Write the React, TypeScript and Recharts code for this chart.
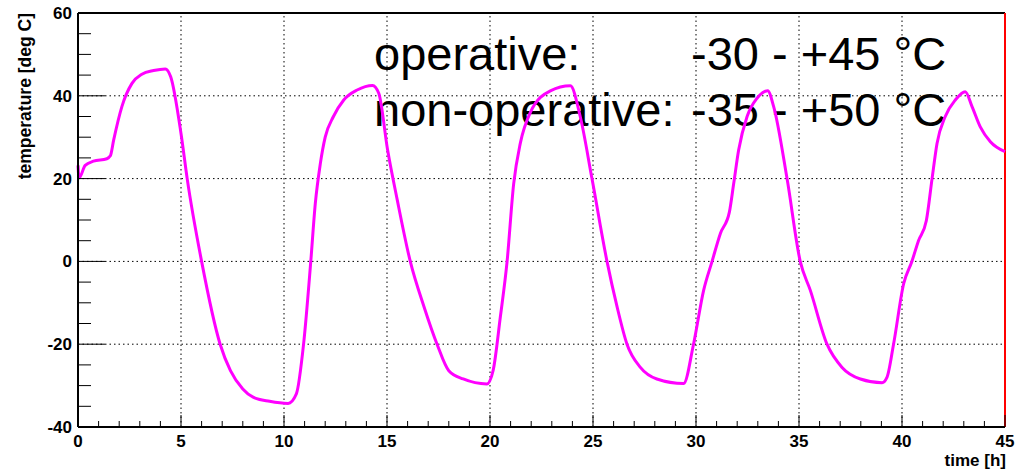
import React from 'react';
import { LineChart, Line, XAxis, YAxis, ReferenceLine, ReferenceArea } from 'recharts';

// time [h] and temperature [deg C]
const timeH = [
  0, 0.05, 0.35, 0.75, 1.4, 1.57, 1.73, 2.13, 2.62, 3.1, 3.67, 4.24, 4.5, 5.0, 5.3, 6.0, 6.9, 7.4, 8.0, 8.5,
  9.3, 10.2, 10.6, 10.95, 11.3, 11.52, 11.76, 12.0, 12.4, 12.9, 13.55, 14.3, 14.6, 15.03, 15.5, 16.13, 16.8,
  17.43, 18.0, 18.7, 19.85, 20.15, 20.5, 20.83, 21.15, 21.47, 21.96, 22.93, 23.9, 24.38, 24.95, 25.68, 26.17,
  26.65, 27.3, 28.1, 29.4, 29.88, 30.37, 30.78, 31.18, 31.62, 31.83, 32.07, 32.48, 32.96, 33.48, 33.77, 34.42,
  35.06, 35.55, 36.36, 37.09, 37.98, 39.03, 39.27, 39.59, 40.08, 40.48, 40.8, 41.18, 41.46, 41.7, 42.1, 42.59,
  43.07, 43.4, 43.8, 44.29, 45,
];
const tempC = [
  23.2, 20.2, 23.2, 24.2, 24.8, 25.5, 29.3, 37.4, 43, 45.2, 46.1, 46.5, 44.6, 30.9, 20, 0, -20, -26.4, -30.8, -32.8,
  -33.8, -34.3, -32, -20, 0, 14, 23.5, 30, 35, 39, 41.4, 42.5, 40.6, 26.9, 14.8, 0, -11,
  -20, -26.4, -28.4, -29.6, -26.4, -13.5, 0, 18.8, 28.5, 36, 41.2, 42.4, 35, 20, 0, -11,
  -20, -25.6, -28.4, -29.5, -20, -7, 0, 6.7, 11.9, 18.8, 26.9, 35, 39.4, 41.2, 37.4, 20,
  0, -7, -20, -25.6, -28.4, -29.3, -28, -20, -5.4, 0, 5, 9.8, 20, 28.5, 35, 39,
  41, 37.4, 32.5, 28.9, 26.5,
];

const xTicks = Array.from({ length: 46 }, (_, i) => i);
const yTicks = Array.from({ length: 21 }, (_, i) => -40 + i * 5);
const xGrid = [5, 10, 15, 20, 25, 30, 35, 40];
const yGrid = [-20, 0, 20, 40];

const data = timeH.map((t, i) => ({ t, temp: tempC[i] }));

const FONT = '"Liberation Sans", Arial, Helvetica, sans-serif';

const XTick = (props: any) => {
  const { x, y, payload } = props;
  const major = payload.value % 5 === 0;
  return (
    <g>
      <line x1={x} x2={x} y1={y} y2={y - (major ? 12 : 6)} stroke="#000" strokeWidth={1} />
      {major && (
        <text x={x} y={y + 20} textAnchor="middle" fontFamily={FONT} fontWeight="bold" fontSize={17} fill="#000">
          {payload.value}
        </text>
      )}
    </g>
  );
};

const YTick = (props: any) => {
  const { x, y, payload } = props;
  const major = payload.value % 20 === 0;
  return (
    <g>
      <line x1={x} x2={x + (major ? 27 : 13)} y1={y} y2={y} stroke="#000" strokeWidth={1} />
      {major && (
        <text x={x - 6} y={y + 6} textAnchor="end" fontFamily={FONT} fontWeight="bold" fontSize={17} fill="#000">
          {payload.value}
        </text>
      )}
    </g>
  );
};

export default function App() {
  return (
    <div style={{ position: 'absolute', left: 0, top: 0, width: 1025, height: 472, background: '#fff' }}>
      <svg width={1025} height={472} style={{ position: 'absolute', left: 0, top: 0 }}>
        <g fontFamily={FONT} fill="#000">
          <text x={374} y={70} fontSize={47}>operative:</text>
          <text x={691} y={70} fontSize={47}>-30 - +45 °C</text>
          <text x={374} y={126} fontSize={47}>non-operative:</text>
          <text x={691} y={126} fontSize={47}>-35 - +50 °C</text>
          <text transform="translate(31,13) rotate(-90)" textAnchor="end" fontSize={17.5} fontWeight="bold">
            temperature [deg C]
          </text>
          <text x={1006} y={466} textAnchor="end" fontSize={17} fontWeight="bold">time [h]</text>
        </g>
      </svg>
      <div style={{ position: 'absolute', left: 0, top: 0 }}>
        <LineChart width={1025} height={472} data={data} margin={{ top: 13, right: 20, left: 18, bottom: 0 }}>
          <XAxis
            dataKey="t"
            type="number"
            domain={[0, 45]}
            ticks={xTicks}
            interval={0}
            height={45}
            tickSize={0}
            tickMargin={0}
            tickLine={false}
            tick={<XTick />}
            axisLine={{ stroke: '#000', strokeWidth: 2 }}
          />
          <YAxis
            type="number"
            domain={[-40, 60]}
            ticks={yTicks}
            interval={0}
            width={60}
            tickSize={0}
            tickMargin={0}
            tickLine={false}
            tick={<YTick />}
            axisLine={{ stroke: '#000', strokeWidth: 2 }}
          />
          <ReferenceArea x1={0} x2={45} y1={-40} y2={60} fill="none" stroke="#ff0000" strokeWidth={1} />
          {xGrid.map((v) => (
            <ReferenceLine key={'x' + v} x={v} stroke="#000" strokeWidth={1} strokeDasharray="1.5 3" />
          ))}
          {yGrid.map((v) => (
            <ReferenceLine key={'y' + v} y={v} stroke="#000" strokeWidth={1} strokeDasharray="1.5 3" />
          ))}
          <ReferenceLine y={60} stroke="#000" strokeWidth={2} />
          <ReferenceLine x={45} stroke="#ff0000" strokeWidth={2} />
          <Line
            type="monotoneX"
            dataKey="temp"
            stroke="#ff00ff"
            strokeWidth={3}
            dot={false}
            isAnimationActive={false}
          />
        </LineChart>
      </div>
    </div>
  );
}
